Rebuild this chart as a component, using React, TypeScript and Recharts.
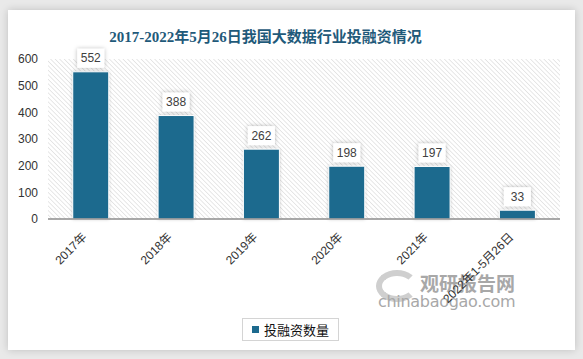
import React from 'react';
import { BarChart, Bar, XAxis, YAxis, CartesianGrid, LabelList } from 'recharts';

const categories = ['2017年', '2018年', '2019年', '2020年', '2021年', '2022年1-5月26日'];
const values = [552, 388, 262, 198, 197, 33];
const yTicks = [0, 100, 200, 300, 400, 500, 600];
const seriesName = '投融资数量';
const title = '2017-2022年5月26日我国大数据行业投融资情况';

const data = categories.map((c, i) => ({ name: c, value: values[i] }));

const BAR = '#1d6a8e';

const ValueLabel = (props: any) => {
  const { x, y, width, value } = props;
  const cx = x + width / 2;
  const w = 27;
  const h = 19;
  const top = y - 4 - h;
  return (
    <g>
      <rect x={cx - w / 2} y={top} width={w} height={h} fill="#fff" filter="url(#lblShadow)" />
      <text x={cx} y={top + h / 2 + 4} textAnchor="middle" fontSize={12} fill="#404040" fontFamily="Liberation Sans, Arial, sans-serif">
        {value}
      </text>
    </g>
  );
};

const XTick = (props: any) => {
  const { x, y, payload } = props;
  return (
    <g transform={`translate(${x - 6},${y + 8})`}>
      <text transform="rotate(-45)" textAnchor="end" dy={4} fontSize={12} fill="#333" fontFamily="Liberation Sans, Noto Sans CJK SC, sans-serif">
        {payload.value}
      </text>
    </g>
  );
};

export default function App() {
  return (
    <div style={{ position: 'absolute', left: 0, top: 0, width: 583, height: 359, background: '#e9e9e9', overflow: 'hidden' }}>
      <svg width={0} height={0} style={{ position: 'absolute' }}>
        <defs>
          <pattern id="hatch" patternUnits="userSpaceOnUse" width={3.2} height={3.2} patternTransform="rotate(-45)">
            <rect width={3.2} height={3.2} fill="#ffffff" />
            <line x1={0} y1={0} x2={0} y2={3.2} stroke="#d6d6d6" strokeWidth={1.1} />
          </pattern>
          <filter id="lblShadow" x="-40%" y="-40%" width="180%" height="180%">
            <feDropShadow dx={0} dy={0} stdDeviation={2} floodColor="#000" floodOpacity={0.28} />
          </filter>
          <filter id="barShadow" x="-30%" y="-30%" width="160%" height="160%">
            <feDropShadow dx={0} dy={0} stdDeviation={1.5} floodColor="#000" floodOpacity={0.2} />
          </filter>
        </defs>
      </svg>
      <div style={{ position: 'absolute', left: 8, top: 10, width: 567, height: 340, background: '#fff', boxShadow: '0 0 8px rgba(0,0,0,0.18)' }} />
      <div style={{ position: 'absolute', left: 0, top: 25, width: 531, textAlign: 'center', fontSize: 15, fontWeight: 'bold', color: '#1f5a7a', fontFamily: 'Liberation Serif, Noto Sans CJK SC, serif', whiteSpace: 'nowrap' }}>
        {title}
      </div>
      {/* watermark */}
      <div style={{ position: 'absolute', left: 376, top: 270, width: 42, height: 32, borderRadius: '50%', border: '6px solid #cfcfcf', borderRightColor: 'transparent', boxSizing: 'border-box' }} />
      <div style={{ position: 'absolute', left: 420, top: 271, fontSize: 19, fontWeight: 'bold', color: '#a8a8a8', fontFamily: 'Noto Sans CJK SC, sans-serif', lineHeight: '24px', letterSpacing: 0 }}>
        观研报告网
      </div>
      <div style={{ position: 'absolute', left: 378, top: 292, fontSize: 16, color: '#a8a8a8', fontFamily: 'DejaVu Sans, sans-serif', lineHeight: '20px', letterSpacing: -0.3 }}>
        chinabaogao.com
      </div>
      <div style={{ position: 'absolute', left: 0, top: 0 }}>
        <BarChart width={583} height={359} data={data} margin={{ top: 59, right: 23, bottom: 0, left: 0 }} barCategoryGap="29%">
          <CartesianGrid horizontal={false} vertical={false} fill="url(#hatch)" />
          <XAxis
            dataKey="name"
            height={140}
            interval={0}
            tick={<XTick />}
            tickLine={false}
            axisLine={{ stroke: '#8c8c8c', strokeWidth: 1.5 }}
          />
          <YAxis
            width={48}
            domain={[0, 600]}
            ticks={yTicks}
            tickLine={false}
            axisLine={false}
            tickSize={0}
            tickMargin={10}
            tick={{ fontSize: 12, fill: '#333', fontFamily: 'Liberation Sans, Arial, sans-serif' }}
            interval={0}
          />
          <Bar dataKey="value" name={seriesName} fill={BAR} stroke="#fff" strokeWidth={1} isAnimationActive={false} style={{ filter: 'url(#barShadow)' }}>
            <LabelList dataKey="value" content={<ValueLabel />} />
          </Bar>
        </BarChart>
      </div>
      <div style={{ position: 'absolute', left: 242, top: 318, width: 97, height: 23, border: '1px solid #d4d4d4', boxSizing: 'border-box', display: 'flex', alignItems: 'center', justifyContent: 'center', background: '#fff' }}>
        <span style={{ display: 'inline-block', width: 7, height: 7, background: BAR, marginRight: 5 }} />
        <span style={{ fontSize: 13, color: '#111', fontFamily: 'Noto Sans CJK SC, sans-serif', lineHeight: '14px' }}>{seriesName}</span>
      </div>
    </div>
  );
}
